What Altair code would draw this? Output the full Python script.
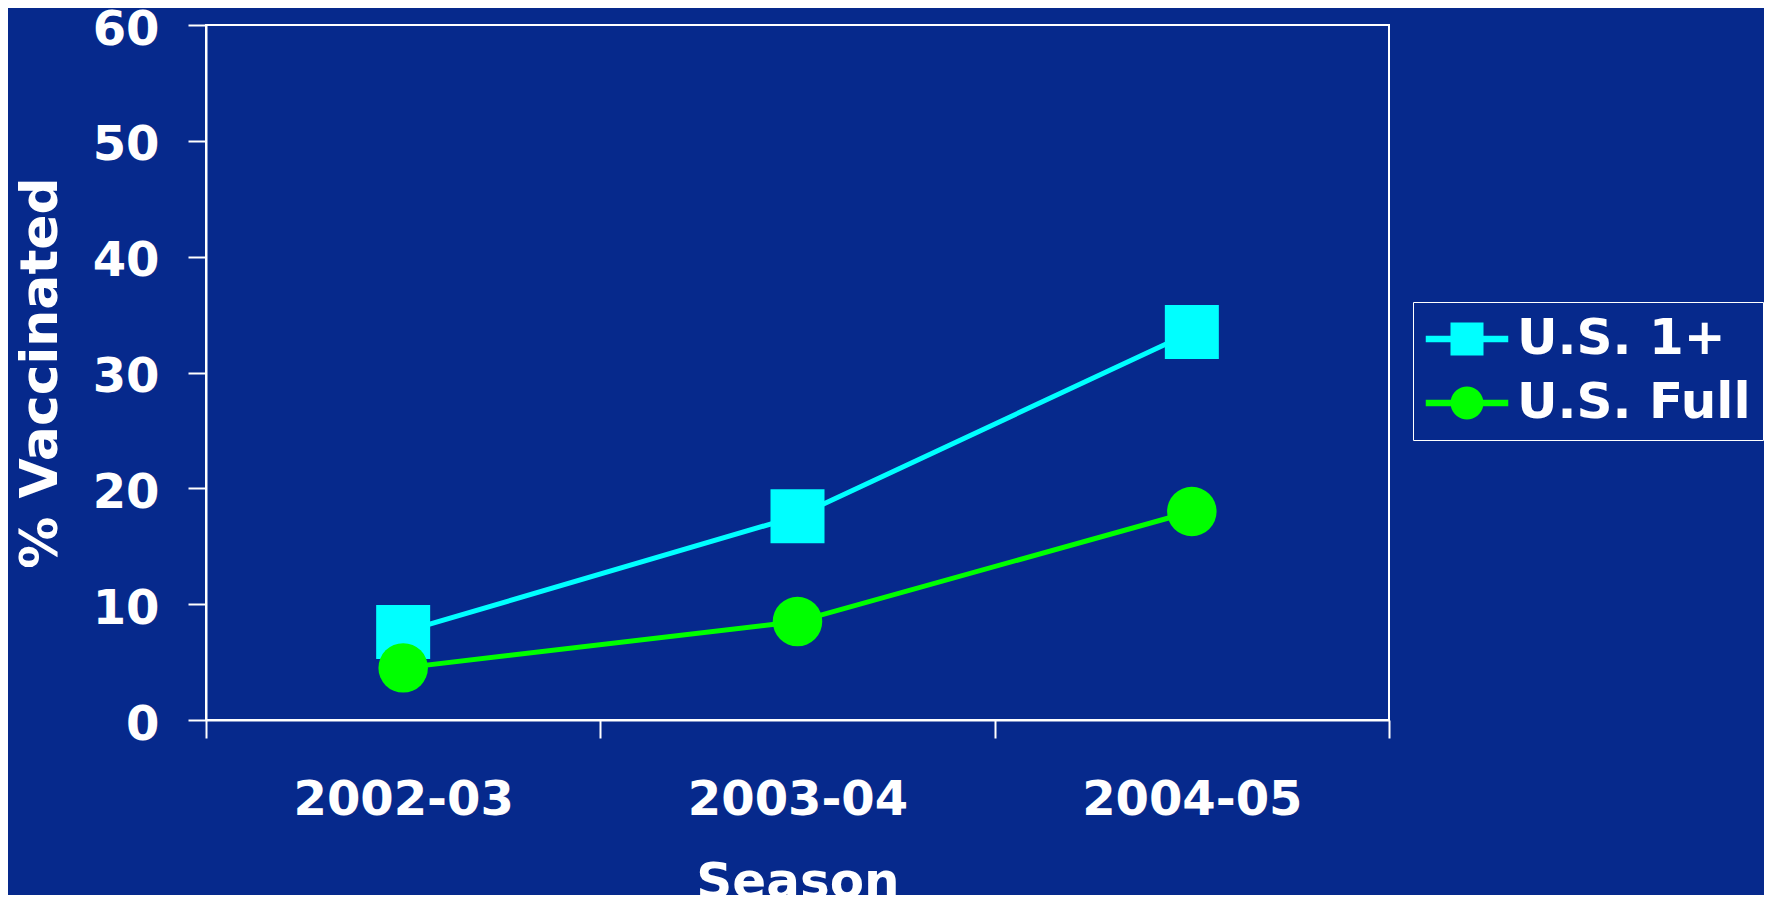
import altair as alt
import pandas as pd

seasons = ["2002-03", "2003-04", "2004-05"]
us_1plus = [7.6, 17.6, 33.5]
us_full = [4.5, 8.5, 18.0]
series_names = ["U.S. 1+", "U.S. Full"]
series_colors = ["#00FFFF", "#00FF00"]
y_ticks = [0, 10, 20, 30, 40, 50, 60]

rows = []
for s, v in zip(seasons, us_1plus):
    rows.append({"season": s, "pct": v, "series": series_names[0]})
for s, v in zip(seasons, us_full):
    rows.append({"season": s, "pct": v, "series": series_names[1]})
df = pd.DataFrame(rows)

FONT = "DejaVu Sans"
color_scale = alt.Scale(domain=series_names, range=series_colors)

# legend symbols: line stub with square / circle (marker half-size = 1 unit)
sq_path = "M-2.5,-0.2H-1V-1H1V-0.2H2.5V0.2H1V1H-1V0.2H-2.5Z"
ci_path = ("M-2.5,-0.2H-0.98A1,1 0 0 1 0.98,-0.2H2.5V0.2H0.98"
           "A1,1 0 0 1 -0.98,0.2H-2.5Z")

x_enc = alt.X(
    "season:N",
    sort=seasons,
    scale=alt.Scale(type="band", paddingInner=0, paddingOuter=0),
    axis=alt.Axis(
        title="Season",
        tickBand="extent",
        labelAngle=0,
        labelAlign="center",
        labelBaseline="alphabetic",
        labelPadding=76,
        titleY=177,
        titleBaseline="alphabetic",
    ),
)
y_enc = alt.Y(
    "pct:Q",
    scale=alt.Scale(domain=[0, 60], nice=False),
    axis=alt.Axis(
        values=y_ticks,
        title="% Vaccinated",
        grid=False,
        labelPadding=29,
        labelOffset=5,
        titleX=-166,
        titleY=347.5,
        titleAlign="center",
        titleBaseline="middle",
        titleAngle=-90,
        titleFontSize=52,
    ),
)

base = alt.Chart(df)

lines = base.mark_line(strokeWidth=5).encode(
    x=x_enc,
    y=y_enc,
    color=alt.Color("series:N", scale=color_scale, legend=None),
    detail="series:N",
)

squares = base.transform_filter(
    alt.datum.series == series_names[0]
).mark_square(size=2916, opacity=1, filled=True, color=series_colors[0]).encode(
    x=alt.X("season:N", sort=seasons), y="pct:Q"
)

circles = base.transform_filter(
    alt.datum.series == series_names[1]
).mark_circle(size=2450, opacity=1, color=series_colors[1]).encode(
    x=alt.X("season:N", sort=seasons), y="pct:Q"
)

legend_props = dict(
    title=None,
    orient="none",
    legendX=1207,
    legendY=277,
    strokeColor="white",
    padding=12,
    labelFont=FONT,
    labelFontWeight="bold",
    labelFontSize=50,
    labelColor="white",
    labelLimit=0,
    labelOffset=25,
    symbolOffset=17,
    symbolSize=1089,
    symbolStrokeWidth=0,
    symbolOpacity=1,
    rowPadding=14,
)

legend_layer = base.transform_filter("false").mark_point(filled=True, opacity=1).encode(
    x=alt.X("season:N", sort=seasons),
    y="pct:Q",
    color=alt.Color("series:N", scale=color_scale, legend=alt.Legend(**legend_props)),
    shape=alt.Shape(
        "series:N",
        scale=alt.Scale(domain=series_names, range=[sq_path, ci_path]),
        legend=alt.Legend(**legend_props),
    ),
)

chart = alt.layer(legend_layer, lines, squares, circles).properties(
    width=1183,
    height=695,
    background="#06298c",
    padding={"left": 198, "top": 17, "right": 375, "bottom": 175},
    autosize=alt.AutoSizeParams(type="none"),
).configure_view(
    stroke="white",
    strokeWidth=2,
).configure_axis(
    labelFont=FONT,
    labelFontWeight="bold",
    labelFontSize=48,
    labelColor="white",
    labelLimit=0,
    titleFont=FONT,
    titleFontWeight="bold",
    titleFontSize=50,
    titleColor="white",
    domainColor="white",
    domainWidth=2,
    tickColor="white",
    tickWidth=2,
    tickSize=18,
)

chart.save("out.html", embed_options={"renderer": "svg", "actions": False})
